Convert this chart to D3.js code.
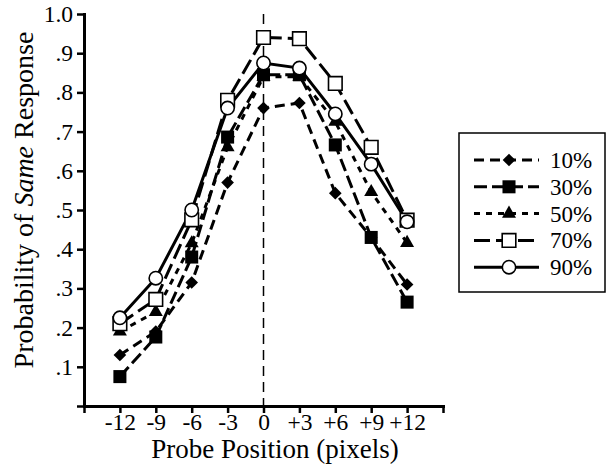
<!DOCTYPE html>
<html>
<head>
<meta charset="utf-8">
<script src="https://cdn.jsdelivr.net/npm/d3@7"></script>
<style>
  body { margin: 0; background: #fff; }
  text { font-family: "Liberation Serif", "Times New Roman", serif; fill: #000; }
</style>
</head>
<body>
<svg id="chart" width="607" height="476"></svg>
<script>
const positions = [-12, -9, -6, -3, 0, 3, 6, 9, 12];
const seriesNames = ['10%', '30%', '50%', '70%', '90%'];
const p10 = [0.13, 0.19, 0.315, 0.57, 0.76, 0.773, 0.543, 0.43, 0.31];
const p30 = [0.075, 0.176, 0.38, 0.686, 0.845, 0.845, 0.666, 0.43, 0.265];
const p50 = [0.19, 0.24, 0.415, 0.66, 0.84, 0.84, 0.725, 0.546, 0.416];
const p70 = [0.21, 0.272, 0.475, 0.78, 0.94, 0.937, 0.823, 0.66, 0.474];
const p90 = [0.225, 0.326, 0.5, 0.76, 0.875, 0.862, 0.745, 0.617, 0.47];
const yTicks = [0, 0.1, 0.2, 0.3, 0.4, 0.5, 0.6, 0.7, 0.8, 0.9, 1.0];
const xTicks = [-15, -12, -9, -6, -3, 0, 3, 6, 9, 12, 15];

const svg = d3.select('#chart');

const x = d3.scaleLinear().domain([-15, 15]).range([84, 443]);
const y = d3.scaleLinear().domain([0, 1]).range([406, 14]);

// series styles
const styles = [
  { values: p10, dash: '10,6', shape: 'diamond' },
  { values: p30, dash: '13,5', shape: 'square' },
  { values: p50, dash: '6,6', shape: 'triangle' },
  { values: p70, dash: '16,6', shape: 'osquare' },
  { values: p90, dash: null, shape: 'circle' }
];

function drawMarker(g, shape, cx, cy) {
  if (shape === 'diamond') {
    g.append('path')
      .attr('d', d3.symbol().type(d3.symbolSquare).size(80)())
      .attr('transform', `translate(${cx},${cy}) rotate(45)`)
      .attr('fill', '#000');
  } else if (shape === 'square') {
    g.append('path')
      .attr('d', d3.symbol().type(d3.symbolSquare).size(170)())
      .attr('transform', `translate(${cx},${cy})`)
      .attr('fill', '#000');
  } else if (shape === 'triangle') {
    g.append('path')
      .attr('d', d3.symbol().type(d3.symbolTriangle).size(85)())
      .attr('transform', `translate(${cx},${cy})`)
      .attr('fill', '#000');
  } else if (shape === 'osquare') {
    g.append('path')
      .attr('d', d3.symbol().type(d3.symbolSquare).size(185)())
      .attr('transform', `translate(${cx},${cy})`)
      .attr('fill', '#fff')
      .attr('stroke', '#000')
      .attr('stroke-width', 1.6);
  } else {
    g.append('path')
      .attr('d', d3.symbol().type(d3.symbolCircle).size(140)())
      .attr('transform', `translate(${cx},${cy})`)
      .attr('fill', '#fff')
      .attr('stroke', '#000')
      .attr('stroke-width', 1.6);
  }
}

// dashed reference line at 0
svg.append('line')
  .attr('x1', x(0)).attr('x2', x(0))
  .attr('y1', y(1)).attr('y2', y(0))
  .attr('stroke', '#000')
  .attr('stroke-width', 1.5)
  .attr('stroke-dasharray', '10,6');

// axes
const xAxis = d3.axisBottom(x)
  .tickValues(xTicks)
  .tickSizeInner(7)
  .tickSizeOuter(0)
  .tickPadding(3)
  .tickFormat(d => (Math.abs(d) === 15 ? '' : d > 0 ? '+' + d : String(d)));

const yAxis = d3.axisLeft(y)
  .tickValues(yTicks)
  .tickSizeInner(7)
  .tickSizeOuter(0)
  .tickPadding(4)
  .tickFormat(d => (d === 0 ? '' : d === 1 ? '1.0' : d3.format('.1f')(d).replace(/^0/, '')));

const gx = svg.append('g').attr('transform', `translate(0,${y(0)})`).call(xAxis);
const gy = svg.append('g').attr('transform', `translate(${x(-15)},0)`).call(yAxis);

[gx, gy].forEach(g => {
  g.select('.domain').attr('stroke-width', 3).attr('stroke-linecap', 'square');
  g.selectAll('.tick line').attr('stroke-width', 2.5);
  g.selectAll('.tick text').style('font-size', '23.5px').attr('fill', '#000');
});
gx.selectAll('.tick text').attr('dy', '0.6em');

// series
const line = d3.line().x((d, i) => x(positions[i])).y(d => y(d));

styles.forEach(s => {
  svg.append('path')
    .datum(s.values)
    .attr('d', line)
    .attr('fill', 'none')
    .attr('stroke', '#000')
    .attr('stroke-width', 3)
    .attr('stroke-dasharray', s.dash);
});
styles.forEach(s => {
  const g = svg.append('g');
  s.values.forEach((v, i) => drawMarker(g, s.shape, x(positions[i]), y(v)));
});

// axis titles
svg.append('text')
  .attr('x', 275).attr('y', 458)
  .attr('text-anchor', 'middle')
  .style('font-size', '27px')
  .text('Probe Position (pixels)');

const yt = svg.append('text')
  .attr('transform', 'translate(33,200) rotate(-90)')
  .attr('text-anchor', 'middle')
  .style('font-size', '28px');
yt.append('tspan').text('Probability of ');
yt.append('tspan').style('font-style', 'italic').text('Same');
yt.append('tspan').text(' Response');

// legend
const legend = svg.append('g');
legend.append('rect')
  .attr('x', 459).attr('y', 133)
  .attr('width', 146).attr('height', 159)
  .attr('fill', '#fff')
  .attr('stroke', '#000')
  .attr('stroke-width', 1.5);

seriesNames.forEach((name, i) => {
  const ly = 160 + i * 26.8;
  legend.append('line')
    .attr('x1', 474).attr('x2', 539)
    .attr('y1', ly).attr('y2', ly)
    .attr('stroke', '#000')
    .attr('stroke-width', 3)
    .attr('stroke-dasharray', styles[i].dash);
  drawMarker(legend, styles[i].shape, 509, ly);
  legend.append('text')
    .attr('x', 550).attr('y', ly + 8)
    .style('font-size', '23px')
    .text(name);
});
</script>
</body>
</html>
